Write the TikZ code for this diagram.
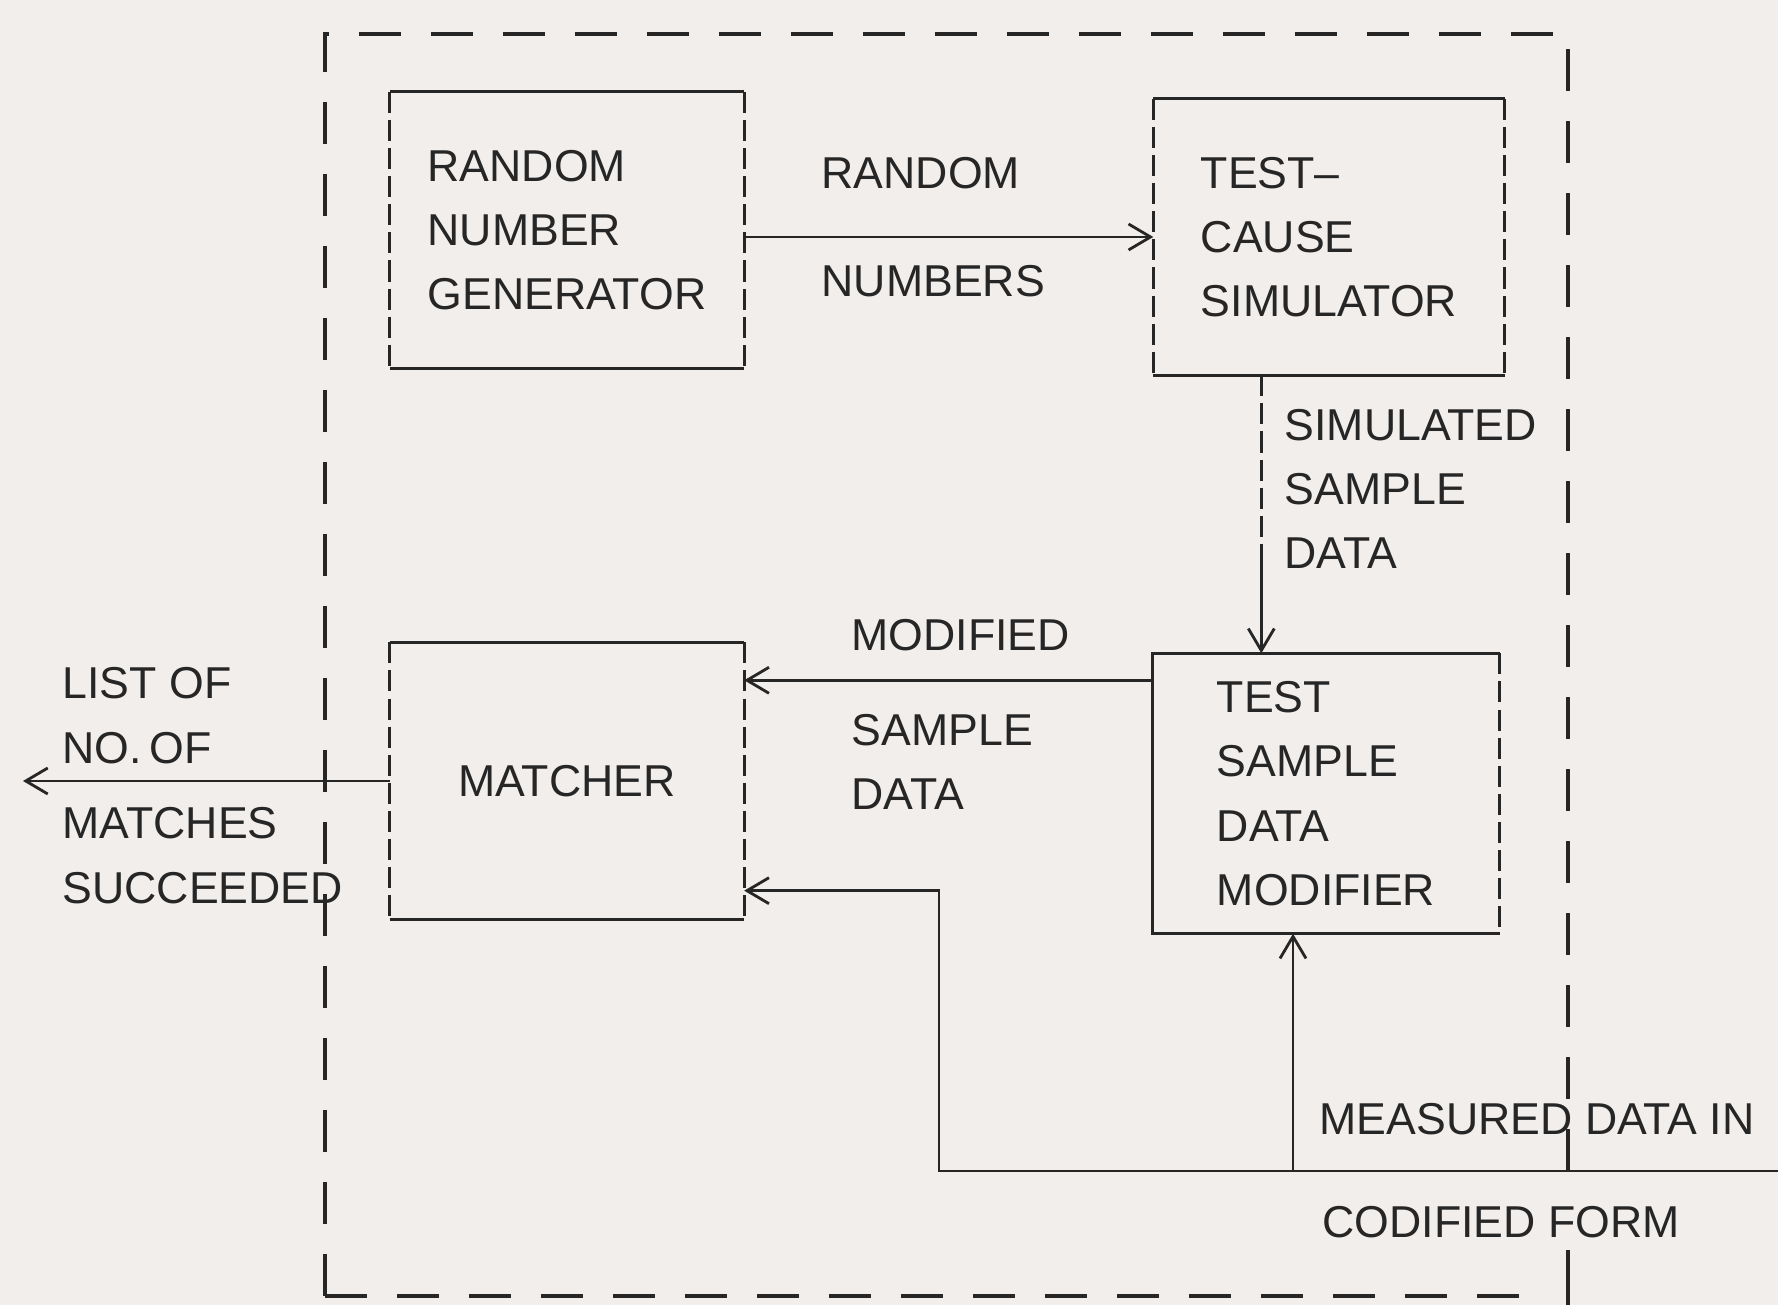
\documentclass[tikz,border=0pt]{standalone}
\usepackage{fontspec}
\setmainfont{Liberation Sans}
\usetikzlibrary{positioning}
\usetikzlibrary{arrows.meta}
\definecolor{paper}{RGB}{241,238,235}
\definecolor{ink}{RGB}{38,38,38}
\tikzset{unit/.style = {minimum width=3.5cm, minimum height=2.75cm,
                        inner sep=0, align=left, text=ink,
                        font=\fontsize{12.7}{18.3}\selectfont}}
\tikzset{lbl/.style = {inner sep=0, align=left, anchor=west, text=ink,
                       font=\fontsize{12.7}{18.3}\selectfont}}
\tikzset{boxline/.style = {ink, line width=0.9pt}}
\tikzset{sidedash/.style = {dash pattern=on 6pt off 2pt}}
\tikzset{framedash/.style = {ink, line width=1pt, dash pattern=on 4.2mm off 3mm}}
\tikzset{flow/.style = {ink, line width=0.8pt,
                        -{Straight Barb[length=2.2mm,width=2.6mm]}}}

\begin{document}
\begin{tikzpicture}
  \fill[paper] (0,0) rectangle (17.78,13.05);
  \useasboundingbox (0,0) rectangle (17.78,13.05);

  % outer frame
  \draw[framedash] (3.25,0.09) -- (3.25,12.71) -- (15.68,12.71) -- (15.68,1.34);
  \draw[framedash] (3.25,0.09) -- (15.30,0.09);
  \draw[ink, line width=1pt] (15.68,0.55) -- (15.68,0);

  % units
  \node[unit, minimum width=3.53cm] (rng) at (5.67,10.75)
    {RANDOM\\NUMBER\\GENERATOR};
  \node[unit] (tcs) at (13.29,10.68) {TEST--\\CAUSE\\SIMULATOR};
  \node[unit, minimum width=3.53cm, minimum height=2.76cm] (mat) at (5.67,5.24)
    {MATCHER};
  \node[unit, minimum width=3.46cm, minimum height=2.79cm] (tsdm) at (13.26,5.115)
    {TEST\\SAMPLE\\DATA\\MODIFIER};

  \foreach \u in {rng,tcs,mat}{
    \draw[boxline] (\u.north west) -- (\u.north east)
                   (\u.south west) -- (\u.south east);
    \draw[boxline,sidedash] (\u.north west) -- (\u.south west)
                            (\u.north east) -- (\u.south east);
  }
  \draw[boxline] (tsdm.north east) -- (tsdm.north west) -- (tsdm.south west)
                 -- (tsdm.south east);
  \draw[boxline,sidedash] (tsdm.north east) -- (tsdm.south east);

  % free ends
  \coordinate (listout) at (0.23,5.24);
  \coordinate (feed) at (17.78,1.34);
  \coordinate (bend) at (9.39,1.34);
  \coordinate (simmid) at ([xshift=1.08cm]tcs.south west |- 0,7.61);

  % connectors
  \draw[flow] (tcs.west -| rng.east) -- (tcs.west);
  \draw[boxline,sidedash] ([xshift=1.08cm]tcs.south west) -- (simmid);
  \draw[flow] (simmid) -- (simmid |- tsdm.north);
  \draw[flow] ([yshift=-2.7mm]tsdm.north west) -- ([yshift=-2.7mm]tsdm.north west -| mat.east);
  \draw[flow] (mat.west) -- (listout);
  \draw[flow] (feed) -- (bend) |- ([yshift=2.9mm]mat.south east);
  \draw[flow] ([xshift=-3.3mm]tsdm.south |- feed) -- ([xshift=-3.3mm]tsdm.south);

  % labels
  \node[lbl] (rndtop) at (8.21,11.32) {RANDOM};
  \node[lbl] (rndbot) at (8.21,10.24) {NUMBERS};
  \node[lbl] (simlbl) at (12.84,8.16) {SIMULATED\\SAMPLE\\DATA};
  \node[lbl] (modtop) at (8.51,6.70) {MODIFIED};
  \node[lbl] (modbot) at (8.51,5.43) {SAMPLE\\DATA};
  \node[lbl] (listtop) at (0.62,5.895) {LIST OF\\NO.\,OF};
  \node[lbl] (listbot) at (0.62,4.495) {MATCHES\\SUCCEEDED};
  \node[lbl] (meastop) at (13.19,1.86) {MEASURED DATA IN};
  \node[lbl] (measbot) at (13.22,0.83) {CODIFIED FORM};
\end{tikzpicture}
\end{document}
